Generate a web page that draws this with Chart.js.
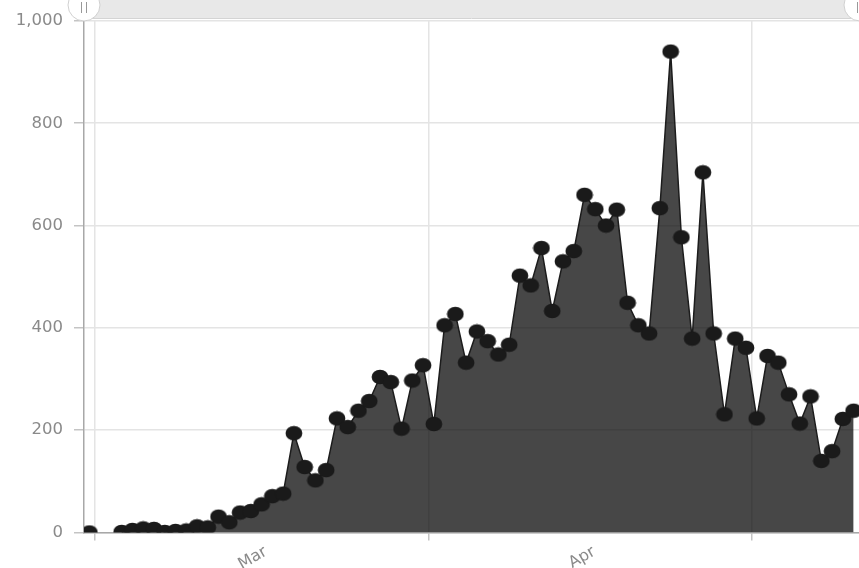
<!DOCTYPE html>
<html>
<head>
<meta charset="utf-8">
<script src="https://cdn.jsdelivr.net/npm/chart.js@4"></script>
<style>
  html, body { margin: 0; padding: 0; background: #fff; }
  #chart { display: block; }
</style>
</head>
<body>
<canvas id="chart" width="859" height="568"></canvas>
<script>
// Daily values, one per day starting at firstDay (null = no report that day)
const firstDay = '2020-02-29';
const dailyValues = [
  0, null, null,
  1, 5, 8, 7, 1, 3, 4, 12, 10, 31,
  20, 39, 42, 55, 71, 76, 194, 128, 102, 122,
  223, 206, 238, 257, 304, 294, 203, 297, 327,
  212, 405, 427, 332, 393, 374, 348, 367, 502, 483,
  556, 433, 530, 550, 660, 632, 600, 631, 449, 405,
  389, 634, 940, 577, 379, 704, 389, 231, 379, 361,
  223, 345, 332, 270, 213, 266, 140, 159, 222, 238
];

// Month boundaries shown as vertical grid lines, labels centred in each month
const monthStarts = ['2020-03-01', '2020-04-01', '2020-05-01'];
const monthLabels = ['Mar', 'Apr'];

const yTicks = [0, 200, 400, 600, 800, 1000];

const DAY = 86400000;
const origin = Date.parse(monthStarts[0]);
const toDay = d => (Date.parse(d) - origin) / DAY;
const start = toDay(firstDay);

const points = dailyValues.map((v, i) => ({ x: start + i + 0.5, y: v }));

const gridDays = monthStarts.map(toDay);
const labelTicks = monthLabels.map((label, i) => ({
  value: (gridDays[i] + gridDays[i + 1]) / 2 + 0.4,
  label: label
}));
const xTicks = gridDays.map(v => ({ value: v, label: '' })).concat(labelTicks)
  .sort((a, b) => a.value - b.value);
const isGrid = v => gridDays.includes(v);

// elliptical marker, as in the source
function makeDot() {
  const c = document.createElement('canvas');
  c.width = 18;
  c.height = 16;
  const g = c.getContext('2d');
  g.fillStyle = '#1a1a1a';
  g.beginPath();
  g.ellipse(9, 8, 8.4, 7.3, 0, 0, Math.PI * 2);
  g.fill();
  return c;
}
const dot = makeDot();

// scrollbar strip along the top with its two grips
const scrollbar = {
  id: 'scrollbar',
  afterDraw(chart) {
    const { ctx, chartArea } = chart;
    const top = 0, h = 18;
    ctx.save();
    ctx.fillStyle = '#e8e8e8';
    ctx.fillRect(chartArea.left, top, chart.width - chartArea.left, h);
    ctx.strokeStyle = '#d4d4d4';
    ctx.lineWidth = 1;
    ctx.beginPath();
    ctx.moveTo(chartArea.left, h + 0.5);
    ctx.lineTo(chart.width, h + 0.5);
    ctx.stroke();
    [chartArea.left, chart.width + 1].forEach(cx => {
      ctx.beginPath();
      ctx.arc(cx, 5, 16, 0, Math.PI * 2);
      ctx.fillStyle = '#fff';
      ctx.fill();
      ctx.strokeStyle = '#d0d0d0';
      ctx.stroke();
      ctx.strokeStyle = '#999';
      ctx.beginPath();
      ctx.moveTo(cx - 2.5, 2); ctx.lineTo(cx - 2.5, 13);
      ctx.moveTo(cx + 2.5, 2); ctx.lineTo(cx + 2.5, 13);
      ctx.stroke();
    });
    ctx.restore();
  }
};

const labelFont = { family: "'DejaVu Sans', sans-serif", size: 16.5 };

new Chart(document.getElementById('chart'), {
  type: 'line',
  data: {
    datasets: [{
      data: points,
      fill: 'origin',
      backgroundColor: 'rgba(0, 0, 0, 0.72)',
      borderColor: '#1c1c1c',
      borderWidth: 1.5,
      tension: 0,
      spanGaps: false,
      pointStyle: dot,
      pointRadius: 7
    }]
  },
  options: {
    responsive: false,
    animation: false,
    layout: {
      autoPadding: false,
      padding: { top: 19, right: 0, left: 0, bottom: 0 }
    },
    plugins: {
      legend: { display: false },
      tooltip: { enabled: false }
    },
    scales: {
      x: {
        type: 'linear',
        min: start,
        max: start + dailyValues.length,
        afterBuildTicks: s => { s.ticks = xTicks.map(t => ({ value: t.value })); },
        afterFit: s => { s.height = 35.5; },
        border: { color: '#a8a8a8', width: 1.5 },
        grid: {
          color: c => isGrid(c.tick.value) ? '#e4e4e4' : 'rgba(0,0,0,0)',
          tickColor: c => isGrid(c.tick.value) ? '#c4c4c4' : 'rgba(0,0,0,0)',
          tickLength: 8,
          lineWidth: 1.5
        },
        ticks: {
          autoSkip: false,
          minRotation: 30,
          maxRotation: 30,
          padding: 2,
          color: '#8a8a8a',
          font: { family: "'DejaVu Sans', sans-serif", size: 16 },
          callback: v => {
            const t = xTicks.find(t => t.value === v);
            return t ? t.label : '';
          }
        }
      },
      y: {
        min: 0,
        max: 1000,
        afterBuildTicks: s => { s.ticks = yTicks.map(v => ({ value: v })); },
        afterFit: s => { s.width = 84; },
        border: { color: '#a8a8a8', width: 1.5 },
        grid: {
          color: '#e4e4e4',
          tickColor: '#c4c4c4',
          tickLength: 10,
          lineWidth: 1.5
        },
        ticks: {
          padding: 11,
          color: '#8a8a8a',
          font: labelFont,
          callback: v => v.toLocaleString('en-US')
        }
      }
    }
  },
  plugins: [scrollbar]
});
</script>
</body>
</html>
